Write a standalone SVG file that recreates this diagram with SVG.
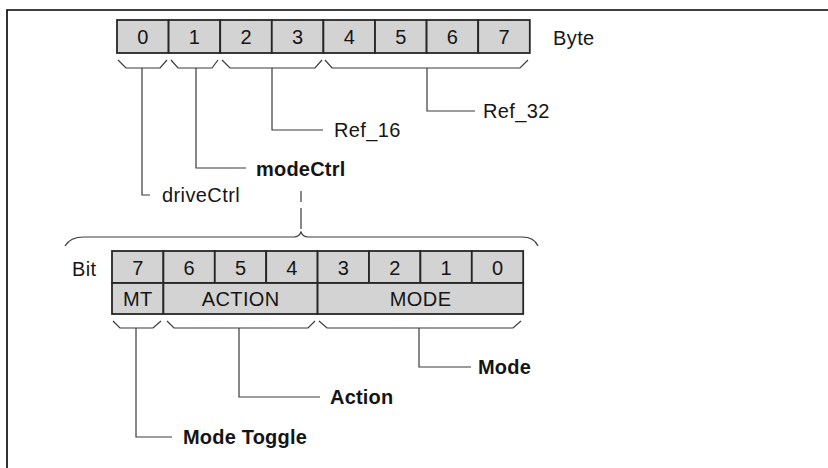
<svg xmlns="http://www.w3.org/2000/svg" width="828" height="468" viewBox="0 0 828 468">
<style>
.frame{fill:none;stroke:#000;stroke-width:1.6}
.cell{fill:#d3d3d3;stroke:#262626;stroke-width:1.8}
.br{fill:none;stroke:#3a3a3a;stroke-width:1.2;stroke-linejoin:miter}
.ln{fill:none;stroke:#3a3a3a;stroke-width:1.2}
text{font-family:"Liberation Sans",Arial,sans-serif;font-size:20px;letter-spacing:0.4px;fill:#151515}
.c{text-anchor:middle}
.b{font-weight:bold;letter-spacing:0.2px}
</style>
<rect width="828" height="468" fill="#fff"/>
<path class="frame" d="M7,468 V10 H828"/>
<g id="bytes">
<rect class="cell" x="117" y="20" width="51.6" height="33"/>
<rect class="cell" x="168.6" y="20" width="51.6" height="33"/>
<rect class="cell" x="220.2" y="20" width="51.6" height="33"/>
<rect class="cell" x="271.8" y="20" width="51.6" height="33"/>
<rect class="cell" x="323.4" y="20" width="51.6" height="33"/>
<rect class="cell" x="375" y="20" width="51.6" height="33"/>
<rect class="cell" x="426.6" y="20" width="51.6" height="33"/>
<rect class="cell" x="478.2" y="20" width="51.6" height="33"/>
<text class="c" x="143" y="44">0</text>
<text class="c" x="194.6" y="44">1</text>
<text class="c" x="246.2" y="44">2</text>
<text class="c" x="297.8" y="44">3</text>
<text class="c" x="349.4" y="44">4</text>
<text class="c" x="401" y="44">5</text>
<text class="c" x="452.6" y="44">6</text>
<text class="c" x="504.2" y="44">7</text>
<text x="553" y="45">Byte</text>
</g>
<g id="bits">
<rect class="cell" x="112" y="251" width="51.4" height="32"/>
<rect class="cell" x="163.4" y="251" width="51.4" height="32"/>
<rect class="cell" x="214.8" y="251" width="51.4" height="32"/>
<rect class="cell" x="266.2" y="251" width="51.4" height="32"/>
<rect class="cell" x="317.6" y="251" width="51.4" height="32"/>
<rect class="cell" x="369" y="251" width="51.4" height="32"/>
<rect class="cell" x="420.4" y="251" width="51.4" height="32"/>
<rect class="cell" x="471.8" y="251" width="51.4" height="32"/>
<rect class="cell" x="112" y="283" width="51.4" height="31"/>
<rect class="cell" x="163.4" y="283" width="154.2" height="31"/>
<rect class="cell" x="317.6" y="283" width="205.6" height="31"/>
<text class="c" x="137.9" y="274.5">7</text>
<text class="c" x="189.3" y="274.5">6</text>
<text class="c" x="240.7" y="274.5">5</text>
<text class="c" x="292.1" y="274.5">4</text>
<text class="c" x="343.5" y="274.5">3</text>
<text class="c" x="394.9" y="274.5">2</text>
<text class="c" x="446.3" y="274.5">1</text>
<text class="c" x="497.7" y="274.5">0</text>
<text class="c" x="137.9" y="305.5">MT</text>
<text class="c" x="240.7" y="305.5">ACTION</text>
<text class="c" x="420.6" y="305.5">MODE</text>
<text x="72" y="275.5">Bit</text>
</g>
<g id="connectors">
<path class="br" d="M118,60 L126,68 H160 L167,60"/>
<path class="br" d="M171,60 L178,68 H212 L218,60"/>
<path class="br" d="M222,60 L230,68 H315 L322,60"/>
<path class="br" d="M325,60 L332,68 H520 L528,60"/>
<path class="ln" d="M142,68 V195 H150"/>
<path class="ln" d="M196,68 V168 H246"/>
<path class="ln" d="M272,68 V130 H323"/>
<path class="ln" d="M427,68 V111 H475"/>
<path class="ln" d="M301,191 V202 M301,208 V229"/>
<path class="br" d="M65,246 Q70,237 84,237 H294 Q299,237 301,232 Q303,237 308,237 H522 Q534,237 538,246"/>
<path class="br" d="M113,321 L120,328 H153 L161,321"/>
<path class="br" d="M167,321 L174,328 H308 L315,321"/>
<path class="br" d="M319,321 L327,328 H513 L521,321"/>
<path class="ln" d="M136,328 V437 H172"/>
<path class="ln" d="M239,328 V397 H320"/>
<path class="ln" d="M419,328 V367 H471"/>
</g>
<g id="labels">
<text x="162" y="201.5">driveCtrl</text>
<text class="b" x="256" y="175.5">modeCtrl</text>
<text x="334" y="136.5">Ref_16</text>
<text x="483" y="117.5">Ref_32</text>
<text class="b" x="478" y="373.5">Mode</text>
<text class="b" x="330" y="403.5">Action</text>
<text class="b" x="183" y="443.5">Mode Toggle</text>
</g>
</svg>
